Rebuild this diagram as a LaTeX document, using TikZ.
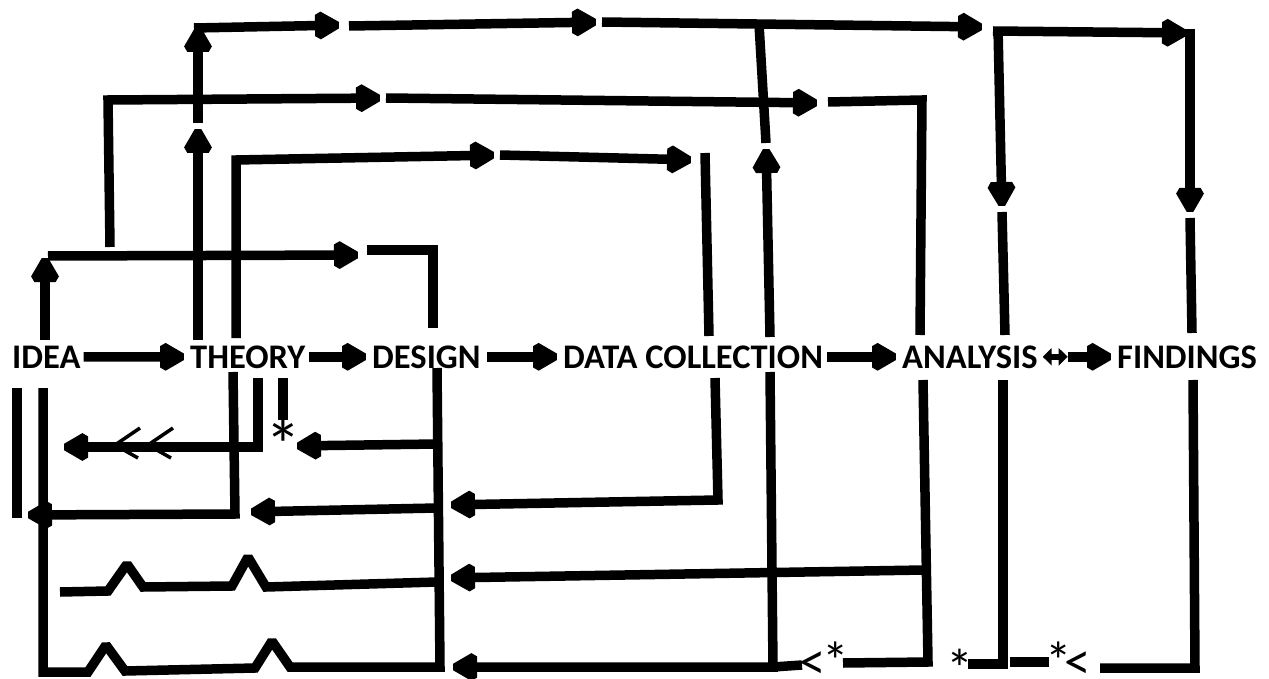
\documentclass[tikz,border=0pt]{standalone}
\usepackage{fontspec}
\setmainfont{Carlito}
\usetikzlibrary{arrows.meta}
% asterisk in a box that hugs its ink
\newcommand{\tightstar}{\raisebox{-0.39em}[0.3em][0pt]{*}}
\begin{document}
\begin{tikzpicture}[x=1pt,y=-1pt,
  conn/.style={line width=9.5pt, line join=miter, miter limit=1.5},
  head/.style={-{Triangle[length=30pt,width=32pt]}},
  duo/.style={{Triangle[length=9pt,width=17pt]}-{Triangle[length=9pt,width=17pt]}},
  stage/.style={font=\fontsize{34.5}{34.5}\selectfont\bfseries, inner sep=0pt, anchor=base west},
  glyph/.style={font=\fontsize{#1}{#1}\selectfont, inner sep=0pt, anchor=center},
  pair/.style={font=\fontsize{53}{53}\selectfont, inner sep=0pt, anchor=base west},
  chev/.style={line width=3.5pt, line join=miter}
]
\useasboundingbox (0,0) rectangle (1269,679);
\fill[white] (0,0) rectangle (1269,679);

% stages along the main row
\node[stage] (idea)     at (12,368)   {IDEA};
\node[stage] (theory)   at (190,368)  {THEORY};
\node[stage] (design)   at (372,368)  {DESIGN};
\node[stage] (data)     at (563,368)  {DATA COLLECTION};
\node[stage] (analysis) at (902,368)  {ANALYSIS};
\node[stage] (findings) at (1117,368) {FINDINGS};

% main row arrows
\draw[conn,head] ([xshift=3pt]idea.east) -- (theory.west);
\draw[conn,head] ([xshift=3pt]theory.east) -- (design.west);
\draw[conn,head] ([xshift=6pt]design.east) -- (data.west);
\draw[conn,head] ([xshift=4pt]data.east) -- (analysis.west);
\coordinate (af) at ([xshift=30pt]analysis.east);
\draw[line width=6pt,duo] ([xshift=5pt]analysis.east) -- (af);
\draw[conn,head] (af) -- (findings.west);

% top rail from THEORY
\coordinate (a0) at (198,340);
\coordinate (a1) at (198,123);
\coordinate (a2) at (198,22);
\coordinate (a3) at (194,28);
\coordinate (a4) at (345,25);
\coordinate (a5) at (349,26);
\coordinate (a6) at (602,22);
\coordinate (a7) at (988,27);
\draw[conn,head] (a0) -- (a1);
\draw[conn,head] (a1) -- (a2);
\draw[conn,head] (a3) -- (a4);
\draw[conn,head] (a5) -- (a6);
\draw[conn,head] (a6) -- (a7);

% top rail down to ANALYSIS and FINDINGS
\coordinate (b0) at (993,31);
\coordinate (b1) at (1192,33);
\coordinate (b2) at (998,28);
\coordinate (b3) at (1002,212);
\coordinate (b4) at (1005,335);
\coordinate (b5) at (1190,29);
\coordinate (b6) at (1190,218);
\coordinate (b7) at (1192,333);
\draw[conn,head] (b0) -- (b1);
\draw[conn,head] (b2) -- (b3);
\draw[conn] (b3) -- (b4);
\draw[conn,head] (b5) -- (b6);
\draw[conn] (b6) -- (b7);

% DATA COLLECTION column
\coordinate (c0) at (770,337);
\coordinate (c1) at (766,143);
\coordinate (c2) at (759,24);
\coordinate (c3) at (770,372);
\coordinate (c4) at (773,667);
\coordinate (c5) at (447,667);
\coordinate (c6) at (802,665);
\draw[conn,head] (c0) -- (c1);
\draw[conn] (c1) -- (c2);
\draw[conn,head] (c3) -- (c4) -- (c5);
\draw[conn] (c4) -- (c6);

% second rail from IDEA side to ANALYSIS
\coordinate (d0) at (110,247);
\coordinate (d1) at (108,100);
\coordinate (d2) at (386,98);
\coordinate (d3) at (823,103);
\coordinate (d4) at (828,102);
\coordinate (d5) at (922,100);
\coordinate (d6) at (920,335);
\coordinate (d7) at (923,380);
\coordinate (d8) at (928,662);
\coordinate (d9) at (843,663);
\draw[conn,head] (d0) -- (d1) -- (d2);
\draw[conn,head] (d2) -- (d3);
\draw[conn] (d4) -- (d5) -- (d6);
\draw[conn] (d7) -- (d8) -- (d9);

% third rail from THEORY to DATA COLLECTION
\coordinate (e0) at (236,338);
\coordinate (e1) at (236,160);
\coordinate (e2) at (500,155);
\coordinate (e3) at (697,160);
\coordinate (e4) at (705,153);
\coordinate (e5) at (709,336);
\draw[conn,head] (e0) -- (e1) -- (e2);
\draw[conn,head] (e2) -- (e3);
\draw[conn] (e4) -- (e5);

% rail from IDEA to DESIGN
\coordinate (f0) at (45,340);
\coordinate (f1) at (45,252);
\coordinate (f2) at (48,256);
\coordinate (f3) at (364,255);
\coordinate (f4) at (367,250);
\coordinate (f5) at (433,250);
\coordinate (f6) at (433,328);
\draw[conn,head] (f0) -- (f1);
\draw[conn,head] (f2) -- (f3);
\draw[conn] (f4) -- (f5) -- (f6);

% DESIGN down and back to IDEA along the bottom
\coordinate (g0) at (437,368);
\coordinate (g1) at (440,667);
\coordinate (g2) at (43,672);
\coordinate (g3) at (43,388);
\draw[conn] (g0) -- (g1) -- (290,667) -- (272,641) -- (255,668) -- (125,671)
  -- (106,645) -- (88,672) -- (g2) -- (g3);

% ANALYSIS back to DESIGN, then the zigzag line
\coordinate (h0) at (924,570);
\coordinate (h1) at (445,578);
\coordinate (h2) at (437,582);
\coordinate (h3) at (60,592);
\draw[conn,head] (h0) -- (h1);
\draw[conn] (h2) -- (266,587) -- (248,557) -- (232,586) -- (143,587)
  -- (127,564) -- (108,591) -- (h3);

% feedback arrows in the lower left
\coordinate (i0) at (715,378);
\coordinate (i1) at (718,500);
\coordinate (i2) at (445,505);
\draw[conn,head] (i0) -- (i1) -- (i2);
\coordinate (j0) at (437,508);
\coordinate (j1) at (245,512);
\draw[conn,head] (j0) -- (j1);
\coordinate (k0) at (233,372);
\coordinate (k1) at (235,514);
\coordinate (k2) at (22,515);
\draw[conn,head] (k0) -- (k1) -- (k2);
\coordinate (l0) at (17,388);
\coordinate (l1) at (17,518);
\draw[conn] (l0) -- (l1);
\coordinate (m0) at (437,444);
\coordinate (m1) at (291,446);
\draw[conn,head] (m0) -- (m1);
\node[glyph=72] (s1) at (283,432) {\tightstar};
\coordinate (n0) at (258,378);
\coordinate (n1) at (258,447);
\coordinate (n2) at (58,447);
\draw[conn,head] (n0) -- (n1) -- (n2);
\draw[chev] (140,428) -- (115,445) -- (138,458);
\draw[chev] (173,428) -- (148,445) -- (171,458);
\coordinate (o0) at (283,378);
\coordinate (o1) at (283,420);
\draw[conn] (o0) -- (o1);

% marks along the bottom right
\node[pair] (mk1) at (799,679) {<\kern-0.06em*};
\node[glyph=54] (s3) at (960,658) {\tightstar};
\node[pair] (mk2) at (1045,679) {*\kern-0.14em<};
\coordinate (q0) at (968,664);
\coordinate (q1) at (1003,664);
\coordinate (q2) at (1003,380);
\draw[conn] (q0) -- (q1) -- (q2);
\coordinate (r0) at (1010,662);
\coordinate (r1) at (1049,662);
\draw[conn] (r0) -- (r1);
\coordinate (p0) at (1100,668);
\coordinate (p1) at (1195,668);
\coordinate (p2) at (1193,380);
\draw[conn] (p0) -- (p1) -- (p2);
\end{tikzpicture}
\end{document}
